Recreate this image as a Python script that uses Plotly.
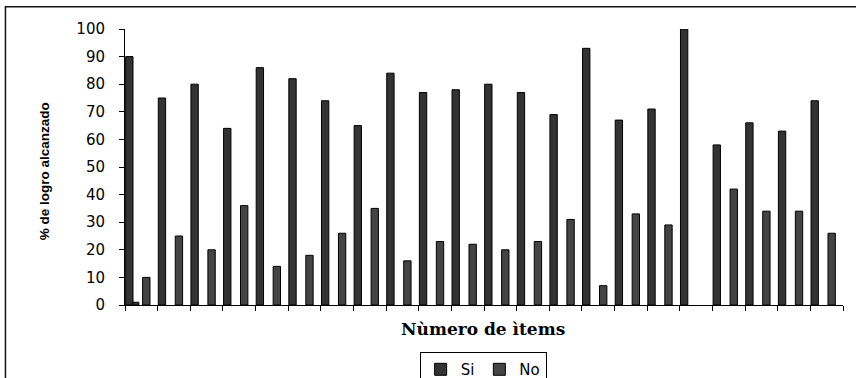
import plotly.graph_objects as go

items = list(range(1, 23))
si = [90, 75, 80, 64, 86, 82, 74, 65, 84, 77, 78, 80, 77, 69, 93, 67, 71, 100, 58, 66, 63, 74]
no = [10, 25, 20, 36, 14, 18, 26, 35, 16, 23, 22, 20, 23, 31, 7, 33, 29, None, 42, 34, 34, 26]
extra = [1, None, None, None, None, None, None, None, None, None, None,
         None, None, None, None, None, None, None, None, None, None, None]
y_ticks = [0, 10, 20, 30, 40, 50, 60, 70, 80, 90, 100]

W, H = 856, 378
PL, PR, PT, PB = 125, 842.7, 29.3, 305   # plot area in page pixels
L, T = PL, PT
R, B = W - PR, H - PB
pw, ph = PR - PL, PB - PT

def px_x(x):
    return (x - PL) / pw

def px_y(y):
    return (PB - y) / ph

fig = go.Figure()
fig.add_trace(go.Bar(x=items, y=si, name="Si", offset=-0.48, width=0.225,
                     marker=dict(color="#333333", line=dict(color="#000000", width=1))))
fig.add_trace(go.Bar(x=items, y=extra, name="", showlegend=False, offset=-0.255, width=0.18,
                     marker=dict(color="#333333", line=dict(color="#000000", width=1))))
fig.add_trace(go.Bar(x=items, y=no, name="No", offset=0.04, width=0.225,
                     marker=dict(color="#444444", line=dict(color="#000000", width=1))))

fig.update_layout(
    width=W, height=H,
    margin=dict(l=L, r=R, t=T, b=B, autoexpand=False),
    paper_bgcolor="white", plot_bgcolor="white",
    barmode="overlay",
    font=dict(family="DejaVu Sans, Arial, sans-serif", color="#000000"),
    xaxis=dict(range=[0.5, 22.5], tickvals=[i + 0.5 for i in range(0, 23)],
               showticklabels=False, ticks="outside", ticklen=5, tickcolor="#000",
               showline=True, linecolor="#000", linewidth=1, showgrid=False, zeroline=False,
               fixedrange=True),
    yaxis=dict(range=[0, 100], tickvals=y_ticks, ticks="outside", ticklen=5, tickcolor="#000",
               showline=True, linecolor="#000", linewidth=1, showgrid=False, zeroline=False,
               tickfont=dict(size=15, family="DejaVu Sans, Arial, sans-serif"),
               ticklabelstandoff=11, fixedrange=True),
    legend=dict(orientation="h", x=px_x(483), xanchor="center", y=px_y(352), yanchor="top",
                bordercolor="#000", borderwidth=1, bgcolor="white",
                font=dict(size=15, family="DejaVu Sans, Arial, sans-serif"),
                itemwidth=30, tracegroupgap=0),
    showlegend=True,
)

fig.add_annotation(text="<b>% de logro alcanzado</b>", xref="paper", yref="paper",
                   x=px_x(44.5), y=px_y(171), textangle=-90, showarrow=False,
                   font=dict(size=13.5, family="Liberation Sans Narrow, Arial Narrow, Liberation Sans, Arial"),
                   xanchor="center", yanchor="middle")
fig.add_annotation(text="<b>Nùmero de ìtems</b>", xref="paper", yref="paper",
                   x=px_x(483), y=px_y(329), showarrow=False,
                   font=dict(size=17, family="DejaVu Serif, Times New Roman, serif"),
                   xanchor="center", yanchor="middle")

fig.add_shape(type="rect", xref="paper", yref="paper",
              x0=px_x(5.5), x1=px_x(900), y0=px_y(420), y1=px_y(7),
              line=dict(color="#111111", width=1.5), fillcolor="rgba(0,0,0,0)", layer="below")

fig.write_html("out.html", config={"displayModeBar": False},
               post_script="document.body.style.margin='0';document.body.style.overflow='hidden';")
